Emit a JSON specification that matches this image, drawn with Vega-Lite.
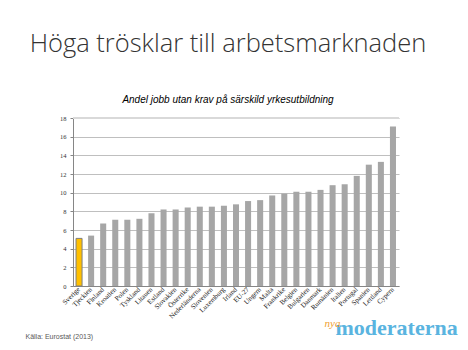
{
  "$schema": "https://vega.github.io/schema/vega-lite/v6.json",
  "width": 326,
  "height": 168,
  "autosize": {"type": "none"},
  "padding": {"left": 73, "top": 118, "right": 69, "bottom": 64},
  "background": "white",
  "config": {"view": {"stroke": null}},
  "title": {
    "text": "Höga trösklar till arbetsmarknaden",
    "subtitle": "Andel jobb utan krav på särskild yrkesutbildning",
    "anchor": "middle",
    "dx": -8,
    "offset": 10,
    "font": "Open Sans",
    "fontWeight": 300,
    "fontSize": 25.5,
    "color": "#333333",
    "subtitleFont": "Liberation Sans",
    "subtitleFontStyle": "italic",
    "subtitleFontSize": 10,
    "subtitleColor": "#000000",
    "subtitlePadding": 38
  },
  "data": {
    "values": [
      {"country": "Sverige", "value": 5.1},
      {"country": "Tjeckien", "value": 5.4},
      {"country": "Finland", "value": 6.7},
      {"country": "Kroatien", "value": 7.1},
      {"country": "Polen", "value": 7.1},
      {"country": "Tyskland", "value": 7.2},
      {"country": "Litauen", "value": 7.8},
      {"country": "Estland", "value": 8.2},
      {"country": "Slovakien", "value": 8.2},
      {"country": "Österrike", "value": 8.4},
      {"country": "Nederländerna", "value": 8.5},
      {"country": "Slovenien", "value": 8.5},
      {"country": "Luxemburg", "value": 8.6},
      {"country": "Irland", "value": 8.75},
      {"country": "EU-27", "value": 9.1},
      {"country": "Ungern", "value": 9.2},
      {"country": "Malta", "value": 9.7},
      {"country": "Frankrike", "value": 9.9},
      {"country": "Belgien", "value": 10.1},
      {"country": "Bulgarien", "value": 10.1},
      {"country": "Danmark", "value": 10.3},
      {"country": "Rumänien", "value": 10.8},
      {"country": "Italien", "value": 10.9},
      {"country": "Portugal", "value": 11.8},
      {"country": "Spanien", "value": 13.0},
      {"country": "Lettland", "value": 13.3},
      {"country": "Cypern", "value": 17.1}
    ]
  },
  "layer": [
    {
      "mark": {"type": "rule", "color": "#d9d9d9", "strokeWidth": 2},
      "encoding": {"y": {"datum": 18, "type": "quantitative", "axis": null}}
    },
    {
      "mark": {"type": "bar"},
      "encoding": {
        "x": {
          "field": "country",
          "type": "nominal",
          "sort": null,
          "scale": {"paddingInner": 0.5, "paddingOuter": 0.25},
          "axis": {
            "orient": "bottom",
            "labelAngle": -45,
            "labelAlign": "right",
            "labelBaseline": "middle",
            "labelFont": "Liberation Serif",
            "labelFontSize": 7,
            "labelColor": "#222222",
            "labelPadding": 2,
            "ticks": false,
            "domainColor": "#868686",
            "title": "Källa: Eurostat (2013)",
            "titleFont": "Liberation Sans",
            "titleFontSize": 7,
            "titleFontWeight": "normal",
            "titleColor": "#595959",
            "titleAlign": "left",
            "titleBaseline": "alphabetic",
            "titleAnchor": "start",
            "titleX": -48,
            "titleY": 52
          }
        },
        "y": {
          "field": "value",
          "type": "quantitative",
          "scale": {"domain": [0, 18], "nice": false},
          "axis": {
            "values": [0, 2, 4, 6, 8, 10, 12, 14, 16, 18],
            "grid": true,
            "gridColor": "#bfbfbf",
            "domainColor": "#868686",
            "tickColor": "#868686",
            "tickSize": 3,
            "labelFont": "Liberation Serif",
            "labelFontSize": 6.5,
            "labelColor": "#333333",
            "labelPadding": 4,
            "title": "nya",
            "titleFont": "Liberation Serif",
            "titleFontStyle": "italic",
            "titleFontWeight": "normal",
            "titleFontSize": 11,
            "titleColor": "#f0a030",
            "titleAngle": 0,
            "titleAlign": "left",
            "titleBaseline": "alphabetic",
            "titleX": 251,
            "titleY": 208
          }
        },
        "color": {
          "condition": {"test": "datum.country === 'Sverige'", "value": "#ffc000"},
          "value": "#a6a6a6"
        },
        "stroke": {
          "condition": {"test": "datum.country === 'Sverige'", "value": "#7f7f7f"},
          "value": null
        }
      }
    },
    {
      "mark": {"type": "bar", "opacity": 0},
      "encoding": {
        "x": {
          "field": "country",
          "type": "nominal",
          "sort": null,
          "axis": {
            "orient": "top",
            "labels": false,
            "ticks": false,
            "domain": false,
            "grid": false,
            "title": "moderaterna",
            "titleFont": "Liberation Serif",
            "titleFontWeight": "bold",
            "titleFontSize": 22,
            "titleColor": "#5ab4e0",
            "titleAlign": "left",
            "titleBaseline": "alphabetic",
            "titleAnchor": "start",
            "titleX": 262,
            "titleY": 216
          }
        },
        "y": {"field": "value", "type": "quantitative", "axis": null}
      }
    }
  ],
  "resolve": {"axis": {"x": "independent", "y": "independent"}}
}
